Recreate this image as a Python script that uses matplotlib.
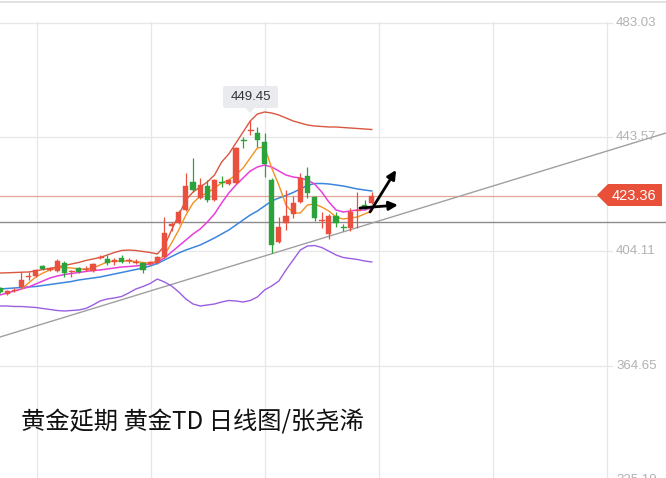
import numpy as np
import matplotlib
matplotlib.use("Agg")
import matplotlib.pyplot as plt
from matplotlib.patches import Polygon, FancyBboxPatch
import matplotlib.transforms as mtransforms

nan = np.nan

# ---------------- data ----------------
opens = [391.50, 389.43, 390.64, 391.84, 395.12, 395.64, 399.09, 397.71, 397.36, 400.12,
         397.19, 398.40, 397.88, 397.36, 402.02, 401.50, 400.47, 401.84, 400.98, 400.29,
         400.12, 399.78, 400.12, 402.19, 412.88, 413.91, 418.40, 428.05, 422.53, 426.67,
         421.84, 428.22, 427.36, 427.71, 442.71, 445.81, 444.95, 441.84, 428.74, 407.36,
         413.91, 417.02, 421.15, 430.12, 422.88, 414.78, 410.12, 416.33, 412.71, 412.19,
         418.05, 420.12, 420.81]
highs = [391.84, 390.81, 391.50, 397.02, 397.02, 398.05, 399.43, 398.74, 401.50, 400.81,
         397.71, 398.74, 399.09, 400.12, 402.88, 402.88, 401.84, 402.88, 401.84, 401.50,
         400.47, 400.81, 402.53, 415.98, 414.26, 418.40, 431.15, 436.33, 429.43, 428.74,
         429.09, 430.12, 429.09, 440.12, 443.57, 449.45, 447.02, 444.95, 429.43, 415.98,
         425.29, 423.22, 431.15, 433.22, 423.22, 417.71, 417.02, 417.71, 413.57, 419.09,
         424.60, 421.84, 424.60]
lows = [389.78, 389.09, 390.12, 391.50, 394.26, 395.29, 397.71, 397.36, 397.02, 395.29,
        395.29, 396.67, 397.36, 397.02, 401.50, 399.43, 399.43, 400.12, 400.12, 399.78,
        396.67, 399.43, 399.78, 401.84, 411.15, 413.57, 418.05, 424.60, 422.19, 421.15,
        421.50, 426.33, 427.02, 427.36, 439.78, 444.26, 440.12, 429.78, 403.57, 407.02,
        411.50, 415.64, 420.81, 422.53, 414.60, 412.19, 408.40, 412.53, 411.15, 411.15,
        412.19, 418.40, 420.47]
closes = [390.12, 390.47, 390.98, 394.26, 395.47, 397.71, 398.05, 398.40, 400.81, 396.67,
          397.53, 397.02, 398.22, 399.78, 402.36, 400.12, 401.15, 400.47, 401.33, 400.64,
          397.71, 400.47, 402.19, 410.47, 413.57, 417.71, 426.67, 425.29, 427.02, 421.84,
          428.74, 427.88, 428.74, 439.78, 442.36, 446.15, 442.53, 434.26, 406.33, 412.53,
          416.33, 420.81, 429.43, 424.26, 415.64, 415.12, 416.33, 413.91, 412.36, 417.71,
          418.40, 418.91, 423.36]

boll_upper = [396.67, 396.74, 396.84, 396.95, 397.02, 397.36, 397.88, 398.22, 398.74, 399.26,
              399.78, 400.29, 400.98, 401.50, 402.02, 402.88, 403.74, 404.43, 404.60, 404.43,
              404.08, 403.74, 403.22, 405.98, 411.50, 416.67, 421.84, 424.60, 426.33, 428.05,
              430.46, 434.95, 437.71, 441.50, 445.29, 449.09, 451.50, 452.19, 451.84, 451.15,
              450.12, 449.09, 448.40, 447.71, 447.36, 447.19, 447.02, 447.02, 446.84, 446.67,
              446.50, 446.33, 446.15]
boll_lower = [385.29, 385.29, 385.12, 385.12, 384.95, 384.78, 384.43, 384.09, 383.74, 383.57,
              383.74, 383.91, 384.43, 385.64, 387.02, 387.71, 388.05, 388.57, 389.78, 391.15,
              392.02, 393.05, 394.60, 393.57, 392.19, 390.12, 387.71, 385.98, 385.29, 385.64,
              385.98, 386.67, 387.19, 387.02, 386.67, 387.19, 388.40, 390.81, 392.19, 393.91,
              397.71, 401.15, 404.60, 405.98, 406.15, 405.46, 404.19, 402.88, 402.02, 401.67,
              401.33, 400.81, 400.47]
boll_mid = [391.15, 391.33, 391.50, 391.67, 391.84, 392.02, 392.36, 392.71, 393.05, 393.40,
            393.74, 394.26, 394.60, 394.95, 395.29, 395.81, 396.33, 396.84, 397.36, 397.88,
            398.40, 399.09, 399.95, 401.15, 402.36, 403.57, 404.60, 405.46, 406.33, 407.53,
            408.74, 410.12, 411.50, 413.22, 414.95, 416.67, 418.05, 419.78, 421.50, 422.53,
            423.40, 424.43, 425.64, 426.84, 427.53, 427.53, 427.36, 427.02, 426.67, 426.15,
            425.64, 425.29, 424.95]
ma10 = [389.09, 389.78, 390.47, 391.15, 391.84, 392.88, 393.91, 394.95, 395.64, 396.15,
        396.50, 396.84, 397.19, 397.53, 397.71, 398.05, 398.40, 398.74, 398.91, 399.09,
        399.43, 399.78, 400.47, 401.84, 403.91, 405.98, 408.05, 410.12, 411.84, 414.26,
        417.02, 420.81, 424.26, 427.02, 429.43, 431.84, 433.22, 433.91, 433.22, 431.84,
        430.46, 429.78, 429.43, 428.74, 427.36, 424.60, 421.15, 418.40, 417.71, 418.05,
        418.40, 418.40, 419.09]
ma5 = [nan, nan, nan, 391.15, 393.22, 395.29, 396.67, 397.71, 398.40, 398.57,
       398.40, 398.05, 398.05, 398.40, 399.43, 400.47, 400.81, 400.81, 400.81, 400.64,
       400.29, 400.12, 400.81, 402.88, 407.02, 411.50, 416.67, 420.81, 423.22, 424.26,
       425.98, 427.71, 428.74, 430.46, 432.88, 436.33, 439.78, 440.12, 432.88, 426.98,
       420.12, 417.36, 417.36, 420.12, 420.47, 419.43, 418.05, 415.98, 415.29, 415.64,
       415.98, 417.02, 418.05]

axis_ticks = [483.03, 443.57, 404.11, 364.65, 325.19]
last_price = 423.36
peak_price = 449.45
support_level = 414.26
trend_x = [0.0, 93.15]
trend_y = [374.60, 444.95]
arrow_up = [(51.75, 417.71), (55.40, 432.19)]
arrow_side = [(50.35, 419.08), (55.66, 420.12)]
title = "黄金延期 黄金TD 日线图/张尧浠"

# ---------------- figure ----------------
W, H = 666, 478
fig = plt.figure(figsize=(W / 100, H / 100), dpi=100)
ax = fig.add_axes([0, 0, 1, 1])
ax.set_xlim(0, 93.15)
ax.set_ylim(325.98, 490.81)
ax.axis("off")

def fx(px):
    return px / W

def fy(py):
    return 1 - py / H

grid_c = "#e7e7e7"
# top border
ax.plot([0, 1], [fy(1.5), fy(1.5)], transform=ax.transAxes, color="#dcdcdc", lw=1.2)
# vertical grid
for px in [36.5, 150.5, 264.5, 378.5, 492.5, 606.5]:
    ax.plot([fx(px), fx(px)], [fy(22), 0], transform=ax.transAxes, color=grid_c, lw=0.9, zorder=0)
# horizontal grid + labels
blend = mtransforms.blended_transform_factory(ax.transAxes, ax.transData)
for t in axis_ticks:
    ax.plot([0, fx(612)], [t, t], transform=blend, color=grid_c, lw=0.9, zorder=0)
    ax.text(fx(616), t, f"{t:.2f}", transform=blend, color="#b2b2b2", fontsize=9.5,
            family="Liberation Sans", va="center", ha="left")

# support line and last price line
ax.plot([0, 1], [support_level, support_level], transform=blend, color="#8c8c8c", lw=1.0, zorder=1)
ax.plot([0, fx(598)], [last_price, last_price], transform=blend, color="#e7a597", lw=0.9, zorder=1)

# trend line
ax.plot(trend_x, trend_y, color="#a0a0a0", lw=1.0, zorder=2)

# indicator lines
x = np.arange(len(opens))
ax.plot(x, boll_upper, color="#d9573f", lw=1.0, zorder=3)
ax.plot(x, boll_lower, color="#9b5fe0", lw=1.0, zorder=3)
ax.plot(x, boll_mid, color="#3c86dd", lw=1.1, zorder=3)
ax.plot(x, ma10, color="#e83fdc", lw=1.1, zorder=3)
ax.plot(x, ma5, color="#f5901f", lw=1.0, zorder=3)

# candles
red, green = "#e9503f", "#2ba33a"
bw = 0.72
for i in range(len(opens)):
    o, h, l, c = opens[i], highs[i], lows[i], closes[i]
    col = red if c >= o else green
    ax.plot([i, i], [l, h], color=col, lw=0.9, zorder=4, solid_capstyle="butt")
    lo, hi = min(o, c), max(o, c)
    if hi - lo < 0.35:
        ax.plot([i - bw / 2, i + bw / 2], [(o + c) / 2] * 2, color=col, lw=1.0, zorder=5)
    else:
        ax.add_patch(plt.Rectangle((i - bw / 2, lo), bw, hi - lo, facecolor=col,
                                   edgecolor=col, lw=0.3, zorder=5))

# arrows
for (t0, t1) in [arrow_up, arrow_side]:
    ax.annotate("", xy=t1, xytext=t0,
                arrowprops=dict(arrowstyle="-|>", color="black", lw=2.0, mutation_scale=13,
                                shrinkA=0, shrinkB=0), zorder=6)

# peak label
ax.add_patch(FancyBboxPatch((fx(223), fy(108)), fx(278) - fx(223), fy(86) - fy(108),
                            boxstyle="round,pad=0,rounding_size=0.004", transform=ax.transAxes,
                            facecolor="#e9ebee", edgecolor="none", zorder=6))
ax.add_patch(Polygon([(fx(245), fy(107.5)), (fx(255), fy(107.5)), (fx(250), fy(113))],
                     closed=True, transform=ax.transAxes, facecolor="#e9ebee", edgecolor="none", zorder=6))
ax.text(fx(250.5), fy(97.5), f"{peak_price:.2f}", transform=ax.transAxes, ha="center", va="center",
        fontsize=9.5, color="#333333", family="Liberation Sans", zorder=7)

# last price tag
tag = [(fx(597), fy(195)), (fx(608), fy(184)), (fx(662), fy(184)), (fx(662), fy(206)), (fx(608), fy(206))]
ax.add_patch(Polygon(tag, closed=True, transform=ax.transAxes, facecolor="#e8503a", edgecolor="none", zorder=7))
ax.text(fx(634), fy(195.5), f"{last_price:.2f}", transform=ax.transAxes, ha="center", va="center",
        fontsize=10.5, color="white", family="Liberation Sans", zorder=8)

# title
ax.text(fx(21), fy(423), title, transform=ax.transAxes, ha="left", va="center", fontsize=17.5,
        color="#111111", family=["Noto Sans CJK SC", "DejaVu Sans"], zorder=8)

fig.savefig("out.png", dpi=100)
